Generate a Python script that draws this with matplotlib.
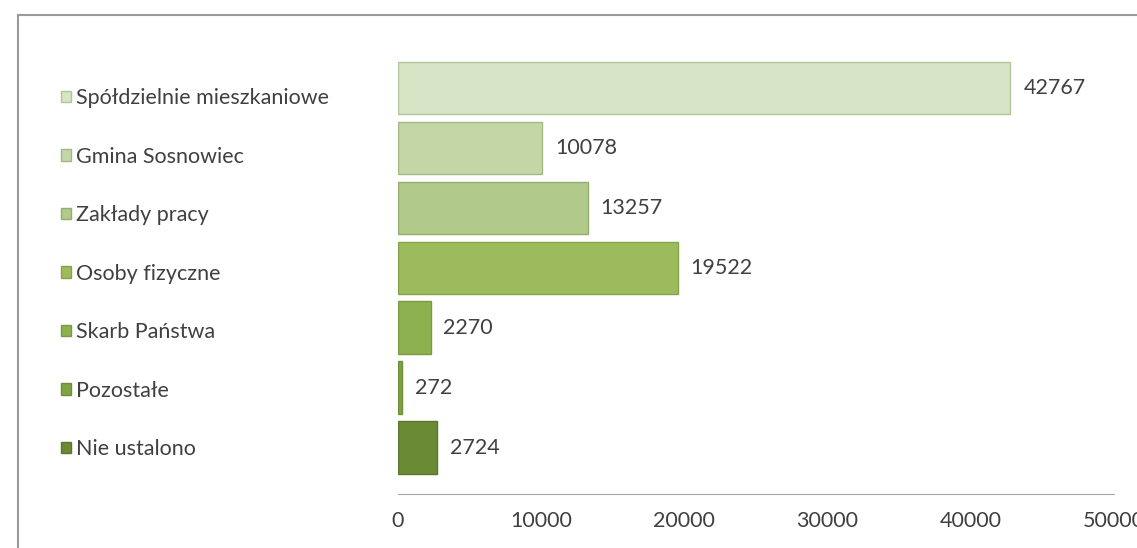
import matplotlib
matplotlib.use('Agg')
import matplotlib.pyplot as plt
from matplotlib.patches import Rectangle, Patch

# data
categories = ['Spółdzielnie mieszkaniowe', 'Gmina Sosnowiec', 'Zakłady pracy',
              'Osoby fizyczne', 'Skarb Państwa', 'Pozostałe', 'Nie ustalono']
values = [42767, 10078, 13257, 19522, 2270, 272, 2724]
xticks = [0, 10000, 20000, 30000, 40000, 50000]

fills = ['#d8e4c6', '#c4d6a6', '#b1ca8b', '#9cbb5c', '#8db14f', '#7fa344', '#6b8a36']
edges = ['#b3c59a', '#a3b884', '#93ad6c', '#86a34c', '#7a9a42', '#6d8e38', '#5b772d']

plt.rcParams['font.family'] = ['Lato', 'DejaVu Sans']
txt = '#404040'
fs = 15.5

fig = plt.figure(figsize=(11.37, 5.48), dpi=100, facecolor='w')

# chart border (runs off the right and bottom edge)
fig.patches.append(Rectangle((18/1137, -0.1), 1.2, 1 - 15/548 + 0.1,
                             transform=fig.transFigure, fill=False,
                             edgecolor='#9a9a9a', linewidth=1.5))

ax = fig.add_axes([398/1137, 1 - 494/548, (1114 - 398)/1137, (494 - 52)/548])
pos = list(range(len(values)))
for i in pos:
    ax.barh(i, values[i], height=0.88, color=fills[i], edgecolor=edges[i],
            linewidth=1, label=categories[i])
    ax.text(values[i] + 900, i, str(values[i]), va='center', ha='left',
            fontsize=fs, color=txt)

ax.set_xlim(0, 50000)
ax.set_ylim(6.77, -0.6)
ax.set_xticks(xticks)
ax.set_xticklabels([str(t) for t in xticks], fontsize=fs, color=txt)
ax.tick_params(axis='x', length=0, pad=12)
ax.set_yticks([])
for s in ['top', 'right', 'left']:
    ax.spines[s].set_visible(False)
ax.spines['bottom'].set_color('#a6a6a6')
ax.set_facecolor('none')

# legend on the left
handles = [Patch(facecolor=fills[i], edgecolor=edges[i], label=categories[i]) for i in pos]
fig.legend(handles=handles, loc='upper left', bbox_to_anchor=(61/1137, 1 - 88/548),
           frameon=False, fontsize=fs, labelcolor=txt, labelspacing=1.79,
           handlelength=0.45, handleheight=0.45, handletextpad=0.25,
           borderpad=0, borderaxespad=0)

plt.savefig('out.png', dpi=100)
